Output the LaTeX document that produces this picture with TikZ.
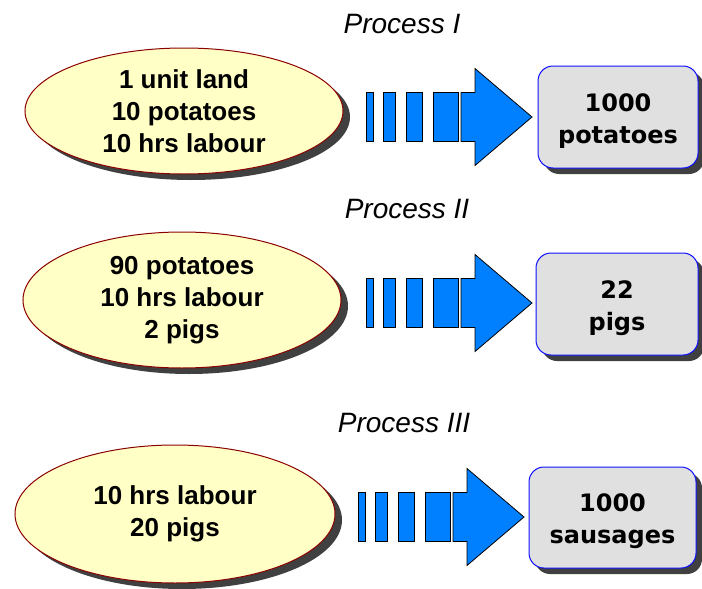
\documentclass[tikz,border=0pt]{standalone}
\usepackage{fontspec}
\setmainfont{Liberation Sans}
\newfontfamily\boxfont{DejaVu Sans}
\usetikzlibrary{shapes.geometric,shadows}
\definecolor{ellfill}{HTML}{FFFFC6}
\definecolor{ellline}{HTML}{8B0000}
\definecolor{boxfill}{HTML}{E0E0E0}
\definecolor{boxline}{HTML}{1010FF}
\definecolor{arrowblue}{HTML}{0080FF}
\definecolor{shadowgray}{HTML}{404040}
\begin{document}
\begin{tikzpicture}[x=1pt,y=-1pt,
  inputell/.style={ellipse, draw=ellline, line width=1pt, fill=ellfill,
    minimum width=318pt, minimum height=130pt, inner sep=0pt, align=center,
    font=\fontsize{26}{32}\selectfont\bfseries,
    drop shadow={shadow xshift=7pt, shadow yshift=-6pt, fill=shadowgray, opacity=1}},
  outbox/.style={rectangle, rounded corners=15pt, draw=boxline, line width=1pt,
    fill=boxfill, minimum width=160pt, minimum height=102pt, inner sep=0pt,
    drop shadow={shadow xshift=6pt, shadow yshift=-6pt, fill=shadowgray, opacity=1}},
  boxtext/.style={align=center, inner sep=0pt, font=\boxfont\bfseries\fontsize{24}{32}\selectfont},
  title/.style={font=\fontsize{28}{30}\selectfont\itshape},
  blockpart/.style={draw=black, line width=0.8pt, fill=arrowblue, line join=miter},
  blockarrow/.pic={
    \draw[blockpart] (0,-24.5) rectangle (7,24.5);
    \draw[blockpart] (17,-24.5) rectangle (29,24.5);
    \draw[blockpart] (40,-24.5) rectangle (56,24.5);
    \draw[blockpart] (67,-24.5) rectangle (92,24.5);
    \draw[blockpart] (95,-24.5) -- (109,-24.5) -- (109,-48.5) -- (166,0)
      -- (109,48.5) -- (109,24.5) -- (95,24.5) -- cycle;
  }]
\fill[white] (0,0) rectangle (702,589);
\useasboundingbox (0,0) rectangle (702,589);

% Process I
\node[title] (t1) at (402,24) {Process I};
\node[inputell, minimum height=126pt] (e1) at (184,111) {1 unit land\\10 potatoes\\10 hrs labour};
\pic at (366,117) {blockarrow};
\node[outbox] (b1) at (618,117) {};
\node[boxtext] (l1) at (618,121) {1000\\potatoes};

% Process II
\node[title] (t2) at (407,209) {Process II};
\node[inputell, minimum height=136pt] (e2) at (182,300) {90 potatoes\\10 hrs labour\\2 pigs};
\pic at (366,303) {blockarrow};
\node[outbox, minimum width=162pt] (b2) at (617,304) {};
\node[boxtext] (l2) at (617,308) {22\\pigs};

% Process III
\node[title] (t3) at (404,423) {Process III};
\node[inputell, minimum width=320pt, minimum height=138pt] (e3) at (175,514) {10 hrs labour\\20 pigs};
\pic at (358,517) {blockarrow};
\node[outbox, minimum width=167pt, minimum height=101pt] (b3) at (612.5,517.5) {};
\node[boxtext] (l3) at (612.5,521) {1000\\sausages};
\end{tikzpicture}
\end{document}
